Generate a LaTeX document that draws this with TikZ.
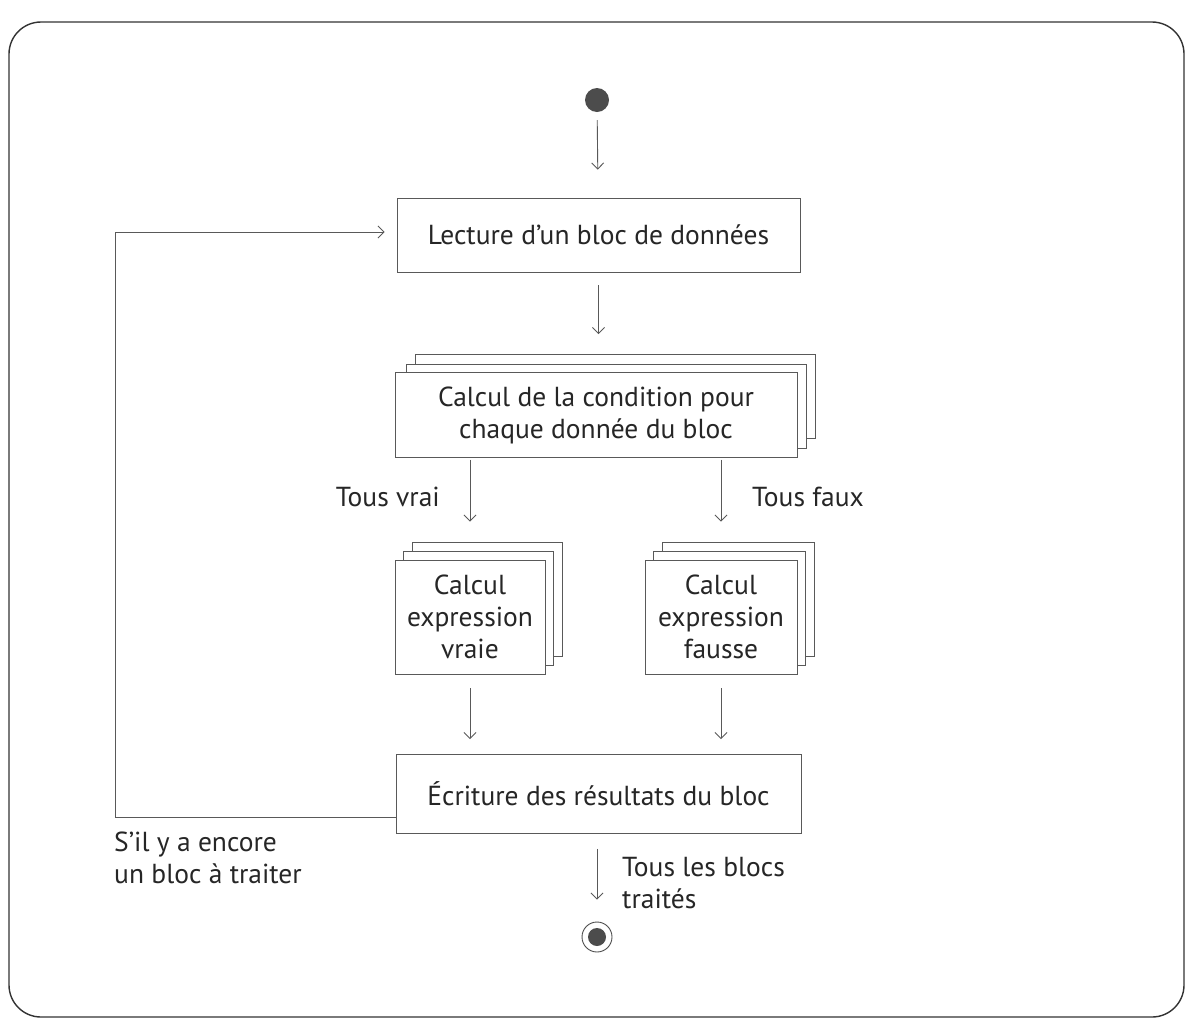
\documentclass[tikz,border=0pt]{standalone}
\usepackage{fontspec}
\setmainfont{PT Sans}
\usetikzlibrary{arrows.meta,calc}
\begin{document}
\begin{tikzpicture}[x=1pt,y=-1pt,
  every node/.style={text=black!85, font=\fontsize{27.5}{32}\selectfont},
  box/.style={draw=black!65, line width=0.9pt, fill=white, inner sep=0pt, align=center},
  arr/.style={draw=black!65, line width=0.9pt, -{Straight Barb[length=6pt,width=12pt]}},
  lbl/.style={inner sep=0pt, align=left}
]
\useasboundingbox (0,0) rectangle (1186,1029);
\draw[black!80, line width=1.4pt, rounded corners=32pt] (9,22) rectangle (1184,1017);

% start
\node[circle, fill=black!70, minimum size=24pt, inner sep=0pt] (start) at (597,100) {};

\node[box, minimum width=403pt, minimum height=74pt] (lecture) at (598.5,235) {Lecture d’un bloc de données};

% condition (multiple)
\node[box, minimum width=400pt, minimum height=84pt] (cond3) at (615,396) {};
\node[box, minimum width=400pt, minimum height=84pt] (cond2) at (606,406) {};
\node[box, minimum width=402pt, minimum height=85pt] (cond) at (596,415) {Calcul de la condition pour\\chaque donnée du bloc};

% vraie
\node[box, minimum width=150pt, minimum height=114pt] (vraie3) at (487,599) {};
\node[box, minimum width=150pt, minimum height=114pt] (vraie2) at (478,608) {};
\node[box, minimum width=150pt, minimum height=114pt] (vraie) at (470,617) {Calcul\\expression\\vraie};

% fausse
\node[box, minimum width=152pt, minimum height=114pt] (fausse3) at (738,599) {};
\node[box, minimum width=152pt, minimum height=114pt] (fausse2) at (729,608) {};
\node[box, minimum width=152pt, minimum height=114pt] (fausse) at (721,617) {Calcul\\expression\\fausse};

\node[box, minimum width=405pt, minimum height=79pt] (ecr) at (598.5,794) {Écriture des résultats du bloc};

% end
\node[circle, draw=black!70, line width=0.9pt, minimum size=30pt, inner sep=0pt] (end) at (597,937) {};
\node[circle, fill=black!70, minimum size=18pt, inner sep=0pt] (endin) at (end.center) {};

% connectors
\draw[arr, shorten <=8pt, shorten >=28pt] (start) -- (lecture);
\draw[arr, shorten <=13pt, shorten >=38pt] (lecture.south) -- (lecture.south |- cond.north);
\draw[arr, shorten <=2pt, shorten >=38pt] (vraie |- cond.south) -- (vraie.north);
\draw[arr, shorten <=2pt, shorten >=38pt] (fausse |- cond.south) -- (fausse.north);
\draw[arr, shorten <=14pt, shorten >=15pt] (vraie.south) -- (vraie.south |- ecr.north);
\draw[arr, shorten <=14pt, shorten >=15pt] (fausse.south) -- (fausse.south |- ecr.north);
\draw[arr, shorten <=15pt, shorten >=22pt] (ecr.south -| end) -- (end);

\coordinate (loopx) at (115,0);
\draw[arr, shorten >=12pt] ([yshift=-23pt]ecr.west) -- ([yshift=-23pt]ecr.west -| loopx) |- ([yshift=3pt]lecture.west);

% labels
\node[lbl, anchor=east] (ltv) at (440,497) {Tous vrai};
\node[lbl, anchor=west] (ltf) at (752,497) {Tous faux};
\node[lbl, anchor=north west] (lenc) at (114,832) {S’il y a encore\\un bloc à traiter};
\node[lbl, anchor=north west] (ltb) at (622,857) {Tous les blocs\\traités};
\end{tikzpicture}
\end{document}
